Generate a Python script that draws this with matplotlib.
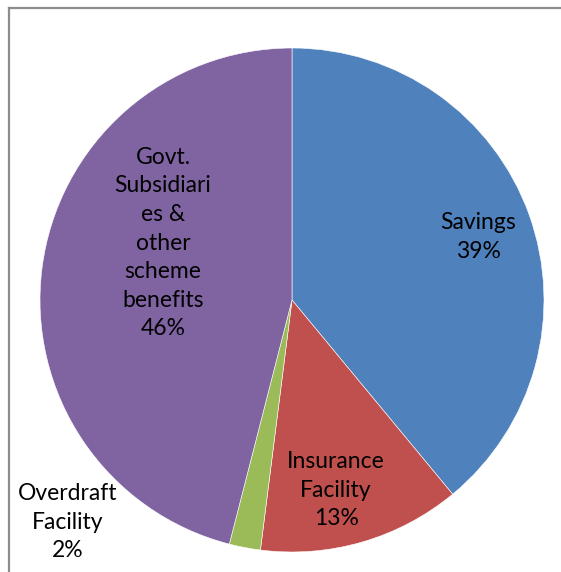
import matplotlib

matplotlib.use("Agg")
import matplotlib.pyplot as plt
from matplotlib.lines import Line2D

plt.rcParams["font.family"] = ["Lato", "DejaVu Sans"]

# share of each facility, clockwise from 12 o'clock
categories = [
    "Savings",
    "Insurance\nFacility",
    "Overdraft\nFacility",
    "Govt.\nSubsidiari\nes &\nother\nscheme\nbenefits",
]
shares = [39, 13, 2, 46]
colors = ["#4F81BD", "#C0504D", "#9BBB59", "#8064A2"]

# label anchors in pie-radius units
label_xy = [(0.738, 0.25), (0.175, -0.754), (-0.889, -0.881), (-0.512, 0.226)]

W, H = 561, 572
fig = plt.figure(figsize=(W / 100, H / 100), dpi=100)
cx, cy, r = 292, H - 300, 252
ax = fig.add_axes([(cx - r) / W, (cy - r) / H, 2 * r / W, 2 * r / H])

ax.pie(
    shares,
    colors=colors,
    startangle=90,
    counterclock=False,
    radius=1,
    wedgeprops={"edgecolor": "white", "linewidth": 0.4},
)
ax.set_xlim(-1, 1)
ax.set_ylim(-1, 1)
ax.set_aspect("equal")
ax.axis("off")

for name, val, (x, y) in zip(categories, shares, label_xy):
    ax.text(
        x, y, f"{name}\n{val}%",
        ha="center", va="center", fontsize=16.5, linespacing=1.45,
        color="black", clip_on=False,
    )

# chart area frame (left and top edges visible)
fig.add_artist(Line2D([9 / W, 9 / W], [0, 1 - 8 / H], color="#8c8c8c", lw=1.6,
                      transform=fig.transFigure))
fig.add_artist(Line2D([9 / W, 1], [1 - 8 / H, 1 - 8 / H], color="#8c8c8c", lw=1.6,
                      transform=fig.transFigure))

fig.savefig("out.png", dpi=100)
plt.close(fig)
